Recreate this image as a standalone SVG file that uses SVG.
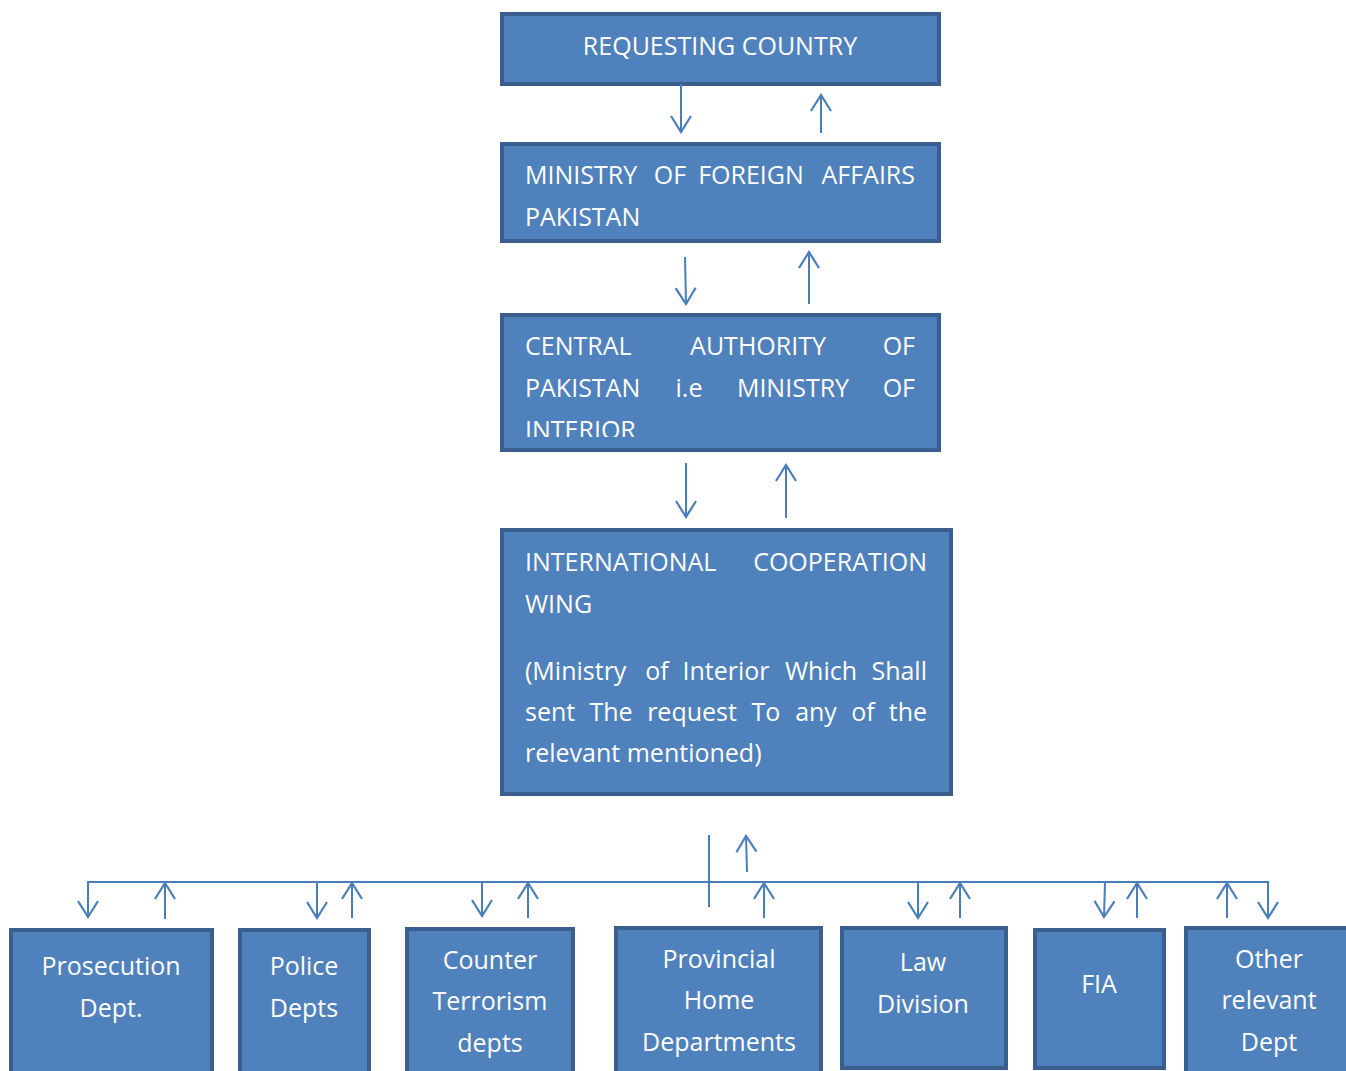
<svg xmlns="http://www.w3.org/2000/svg" width="1346" height="1071" viewBox="0 0 1346 1071">
<style>
.box{fill:#4F81BD;stroke:#3A5F8E;stroke-width:4}
.t{font-family:"Open Sans","Liberation Sans",sans-serif;font-size:25px;fill:#FFFFFF}
.m{text-anchor:middle}
.e{text-anchor:end}
.c{stroke:#4A7EBB;stroke-width:2;fill:none}
</style>
<defs>
<marker id="ah" viewBox="0 0 20 24" refX="18" refY="12" markerWidth="20" markerHeight="24" markerUnits="userSpaceOnUse" orient="auto">
<path d="M2,2 L18,12 L2,22" fill="none" stroke="#4A7EBB" stroke-width="2.2"/>
</marker>
<clipPath id="clip3"><rect x="500" y="313" width="441" height="124"/></clipPath>
</defs>
<rect width="1346" height="1071" fill="#FFFFFF"/>

<g id="requesting-country">
<rect class="box" x="502" y="14" width="437" height="70"/>
<text class="t m" x="720" y="55">REQUESTING COUNTRY</text>
</g>

<g id="ministry-foreign-affairs">
<rect class="box" x="502" y="144" width="437" height="97"/>
<text class="t" x="525" y="184">MINISTRY</text>
<text class="t m" x="670" y="184">OF</text>
<text class="t m" x="751" y="184">FOREIGN</text>
<text class="t e" x="915" y="184">AFFAIRS</text>
<text class="t" x="525" y="226">PAKISTAN</text>
</g>

<g id="central-authority">
<rect class="box" x="502" y="315" width="437" height="135"/>
<text class="t" x="525" y="355">CENTRAL</text>
<text class="t m" x="758" y="355">AUTHORITY</text>
<text class="t e" x="915" y="355">OF</text>
<text class="t" x="525" y="397">PAKISTAN</text>
<text class="t m" x="689" y="397">i.e</text>
<text class="t m" x="793" y="397">MINISTRY</text>
<text class="t e" x="915" y="397">OF</text>
<text class="t" x="525" y="439" clip-path="url(#clip3)">INTERIOR</text>
</g>

<g id="international-cooperation-wing">
<rect class="box" x="502" y="530" width="449" height="264"/>
<text class="t" x="525" y="571">INTERNATIONAL</text>
<text class="t e" x="927" y="571">COOPERATION</text>
<text class="t" x="525" y="613">WING</text>
<text class="t" x="525" y="680">(Ministry</text>
<text class="t m" x="657" y="680">of</text>
<text class="t m" x="726" y="680">Interior</text>
<text class="t m" x="821" y="680">Which</text>
<text class="t e" x="927" y="680">Shall</text>
<text class="t" x="525" y="721">sent</text>
<text class="t m" x="611" y="721">The</text>
<text class="t m" x="692" y="721">request</text>
<text class="t m" x="766" y="721">To</text>
<text class="t m" x="816" y="721">any</text>
<text class="t m" x="863" y="721">of</text>
<text class="t e" x="927" y="721">the</text>
<text class="t" x="525" y="762">relevant mentioned)</text>
</g>

<g id="prosecution-dept">
<rect class="box" x="11" y="930" width="201" height="150"/>
<text class="t m" x="111" y="975">Prosecution</text>
<text class="t m" x="111" y="1017">Dept.</text>
</g>
<g id="police-depts">
<rect class="box" x="240" y="930" width="129" height="150"/>
<text class="t m" x="304" y="975">Police</text>
<text class="t m" x="304" y="1017">Depts</text>
</g>
<g id="counter-terrorism-depts">
<rect class="box" x="407" y="929" width="166" height="150"/>
<text class="t m" x="490" y="969">Counter</text>
<text class="t m" x="490" y="1010">Terrorism</text>
<text class="t m" x="490" y="1052">depts</text>
</g>
<g id="provincial-home-departments">
<rect class="box" x="616" y="928" width="205" height="150"/>
<text class="t m" x="719" y="968">Provincial</text>
<text class="t m" x="719" y="1009">Home</text>
<text class="t m" x="719" y="1051">Departments</text>
</g>
<g id="law-division">
<rect class="box" x="842" y="928" width="164" height="140"/>
<text class="t m" x="923" y="971">Law</text>
<text class="t m" x="923" y="1013">Division</text>
</g>
<g id="fia">
<rect class="box" x="1035" y="930" width="129" height="138"/>
<text class="t m" x="1099" y="993">FIA</text>
</g>
<g id="other-relevant-dept">
<rect class="box" x="1186" y="928" width="170" height="150"/>
<text class="t m" x="1269" y="968">Other</text>
<text class="t m" x="1269" y="1009">relevant</text>
<text class="t m" x="1269" y="1051">Dept</text>
</g>

<g id="connectors">
<line class="c" x1="681" y1="84" x2="681" y2="132" marker-end="url(#ah)"/>
<line class="c" x1="821" y1="133" x2="821" y2="95" marker-end="url(#ah)"/>
<line class="c" x1="685" y1="257" x2="686" y2="304" marker-end="url(#ah)"/>
<line class="c" x1="809" y1="304" x2="809" y2="252" marker-end="url(#ah)"/>
<line class="c" x1="686" y1="463" x2="686" y2="517" marker-end="url(#ah)"/>
<line class="c" x1="786" y1="518" x2="786" y2="465" marker-end="url(#ah)"/>

<line class="c" x1="709" y1="835" x2="709" y2="907"/>
<line class="c" x1="747" y1="872" x2="746" y2="836" marker-end="url(#ah)"/>
<polyline class="c" points="88,917 88,882 1268,882 1268,917" stroke-width="1.8"/>
<line class="c" x1="88" y1="882" x2="88" y2="917" marker-end="url(#ah)"/>
<line class="c" x1="165" y1="919" x2="165" y2="883" marker-end="url(#ah)"/>
<line class="c" x1="317" y1="882" x2="317" y2="918" marker-end="url(#ah)"/>
<line class="c" x1="352" y1="918" x2="352" y2="883" marker-end="url(#ah)"/>
<line class="c" x1="482" y1="882" x2="482" y2="916" marker-end="url(#ah)"/>
<line class="c" x1="528" y1="918" x2="528" y2="883" marker-end="url(#ah)"/>
<line class="c" x1="764" y1="918" x2="764" y2="883" marker-end="url(#ah)"/>
<line class="c" x1="918" y1="882" x2="918" y2="918" marker-end="url(#ah)"/>
<line class="c" x1="960" y1="918" x2="960" y2="883" marker-end="url(#ah)"/>
<line class="c" x1="1105" y1="882" x2="1104" y2="917" marker-end="url(#ah)"/>
<line class="c" x1="1137" y1="918" x2="1137" y2="883" marker-end="url(#ah)"/>
<line class="c" x1="1227" y1="918" x2="1227" y2="883" marker-end="url(#ah)"/>
<line class="c" x1="1268" y1="882" x2="1268" y2="918" marker-end="url(#ah)"/>
</g>
</svg>
